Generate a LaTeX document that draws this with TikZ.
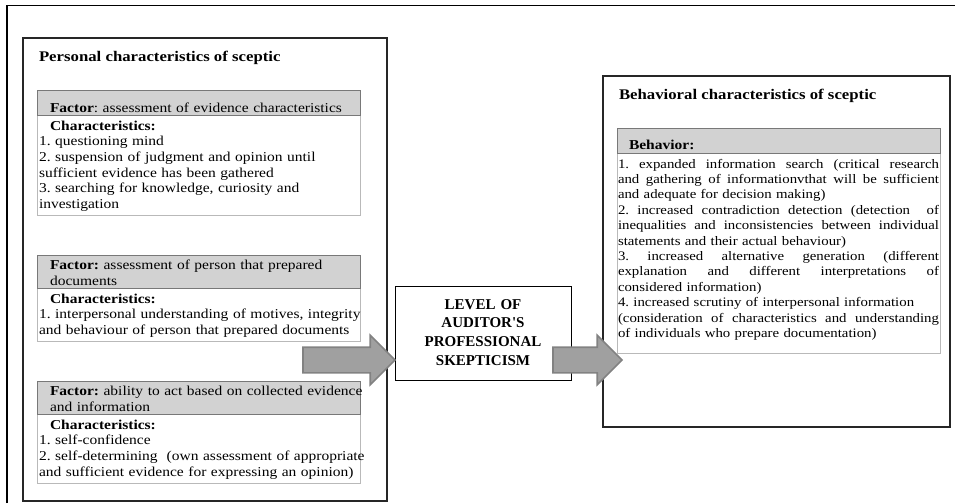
\documentclass[tikz,border=0pt]{standalone}
\usepackage{fontspec}
\setmainfont{Liberation Serif}[FakeStretch=1.14]
\newfontfamily\cfont{Liberation Serif}
\usetikzlibrary{shapes.arrows}
\definecolor{hdrfill}{RGB}{210,210,210}
\definecolor{hdrline}{RGB}{120,120,120}
\definecolor{boxline}{RGB}{185,185,185}
\definecolor{arrfill}{RGB}{160,160,160}
\definecolor{arrline}{RGB}{130,130,130}
\newcommand\jline[1]{\makebox[321pt][s]{\spaceskip=0.25em plus 3em minus 0.1em\relax #1}}
\newcommand\txtsetup{\frenchspacing\hyphenpenalty=10000\exhyphenpenalty=10000\spaceskip=0.25em plus 0.2em minus 0.08em\relax}
\begin{document}
\begin{tikzpicture}[x=1pt,y=-1pt,
  bigbox/.style={draw=black!85, line width=1.2pt, inner sep=0pt, outer sep=0pt, anchor=north west},
  hdrbox/.style={draw=hdrline, fill=hdrfill, line width=0.8pt, inner sep=0pt, outer sep=0pt, anchor=north west},
  bodybox/.style={draw=boxline, fill=white, line width=0.8pt, inner sep=0pt, outer sep=0pt, anchor=north west},
  ltxt/.style={anchor=base west, inner sep=0pt, outer sep=0pt, align=left, text width=345pt, font=\fontsize{13.6}{15.7}\selectfont\txtsetup},
  rtxt/.style={anchor=base west, inner sep=0pt, outer sep=0pt, align=left, text width=345pt, font=\fontsize{13.0}{15.4}\selectfont\txtsetup},
  ttl/.style={anchor=base west, inner sep=0pt, outer sep=0pt, font=\fontsize{14.7}{16}\selectfont\bfseries},
  bigarrow/.style={single arrow, draw=arrline, fill=arrfill, line width=1.6pt, minimum width=48pt, single arrow head extend=12pt, inner xsep=0pt, inner ysep=12pt, outer sep=0pt, anchor=tip}
]
\useasboundingbox (0,0) rectangle (955,503);
% outer frame (top and left only)
\draw[line width=1.3pt] (7,503) -- (7,5.5) -- (955,5.5);

% left big box
\node[bigbox, minimum width=364pt, minimum height=463pt] (leftbox) at (23,38) {};
\node[ttl] (ltitle) at (39,62) {Personal characteristics of sceptic};

% factor 1
\node[bodybox, minimum width=323pt, minimum height=100pt] (f1b) at (37,115) {};
\node[hdrbox, minimum width=323pt, minimum height=25pt] (f1h) at (37,90) {};
\node[ltxt] (f1ht) at (50,112) {\textbf{Factor}: assessment of evidence characteristics};
\node[ltxt] (f1bt) at (39,130) {\hspace*{11pt}\textbf{Characteristics:}\\
1. questioning mind\\
2. suspension of judgment and opinion until\\
sufficient evidence has been gathered\\
3. searching for knowledge, curiosity and\\
investigation};

% factor 2
\node[bodybox, minimum width=323pt, minimum height=53pt] (f2b) at (37,288) {};
\node[hdrbox, minimum width=323pt, minimum height=33pt] (f2h) at (37,255) {};
\node[ltxt] (f2ht) at (50,269.5) {\textbf{Factor:} assessment of person that prepared\\documents};
\node[ltxt] (f2bt) at (39,303) {\hspace*{11pt}\textbf{Characteristics:}\\
1. interpersonal understanding of motives, integrity\\
and behaviour of person that prepared documents};

% factor 3
\node[bodybox, minimum width=323pt, minimum height=69pt] (f3b) at (37,414) {};
\node[hdrbox, minimum width=323pt, minimum height=33pt] (f3h) at (37,381) {};
\node[ltxt] (f3ht) at (50,395.5) {\textbf{Factor:} ability to act based on collected evidence\\and information};
\node[ltxt] (f3bt) at (39,429) {\hspace*{11pt}\textbf{Characteristics:}\\
1. self-confidence\\
2. self-determining\ \ (own assessment of appropriate\\
and sufficient evidence for expressing an opinion)};

% centre box
\node[draw=black, line width=1pt, minimum width=176pt, minimum height=94pt, inner sep=0pt, outer sep=0pt, anchor=north west] (cbox) at (395,286) {};
\node[anchor=base, inner sep=0pt, text width=170pt, align=center, font=\cfont\bfseries\fontsize{15}{18.8}\selectfont] (ctext) at (483,309) {LEVEL OF\\AUDITOR\textquotesingle S\\PROFESSIONAL\\SKEPTICISM};

% right big box
\node[bigbox, minimum width=347pt, minimum height=351pt] (rightbox) at (603,76) {};
\node[ttl] (rtitle) at (619,99) {Behavioral characteristics of sceptic};
\node[bodybox, minimum width=323pt, minimum height=200pt] (bb) at (617,153) {};
\node[hdrbox, minimum width=323pt, minimum height=25pt] (bh) at (617,128) {};
\node[ltxt] (bht) at (629,149.5) {\textbf{Behavior:}};
\node[rtxt] (bbt) at (618,168) {\jline{1. expanded information search (critical research}\\
\jline{and gathering of informationvthat will be sufficient}\\
and adequate for decision making)\\
\jline{2. increased contradiction detection (detection\ \ of}\\
\jline{inequalities and inconsistencies between individual}\\
statements and their actual behaviour)\\
\jline{3. increased alternative generation (different}\\
\jline{explanation and different interpretations of}\\
considered information)\\
4. increased scrutiny of interpersonal information\\
\jline{(consideration of characteristics and understanding}\\
of individuals who prepare documentation)};

% block arrows
\node[bigarrow, minimum height=92pt] (arr1) at (395,360) {};
\node[bigarrow, minimum height=69pt] (arr2) at (622,360) {};
\end{tikzpicture}
\end{document}
